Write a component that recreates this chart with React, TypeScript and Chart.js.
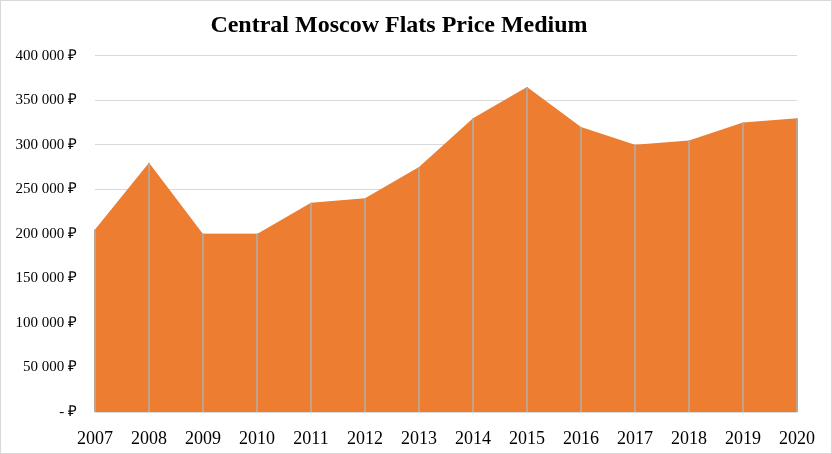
import React, { useEffect, useRef } from "react";
import { Chart, registerables } from "chart.js";

Chart.register(...registerables);

const years = ["2007", "2008", "2009", "2010", "2011", "2012", "2013", "2014", "2015", "2016", "2017", "2018", "2019", "2020"];
const prices = [205000, 280000, 200000, 200000, 235000, 240000, 275000, 330000, 365000, 320000, 300000, 305000, 325000, 330000];
const yTicks = [0, 50000, 100000, 150000, 200000, 250000, 300000, 350000, 400000];

const fmt = (v: number) => (v === 0 ? "- ₽" : v.toString().replace(/\B(?=(\d{3})+(?!\d))/g, " ") + " ₽");

const dropLines = {
  id: "dropLines",
  afterDatasetsDraw(chart: any) {
    const meta = chart.getDatasetMeta(0);
    const { ctx, chartArea } = chart;
    ctx.save();
    ctx.strokeStyle = "#bfa38f";
    ctx.lineWidth = 2;
    meta.data.forEach((pt: any) => {
      const x = Math.round(pt.x);
      ctx.beginPath();
      ctx.moveTo(x, pt.y);
      ctx.lineTo(x, chartArea.bottom);
      ctx.stroke();
    });
    ctx.restore();
  },
};

const serif = "'Liberation Serif', 'Times New Roman', serif";

export default function App() {
  const ref = useRef<HTMLCanvasElement>(null);
  useEffect(() => {
    document.body.style.margin = "0";
    const chart = new Chart(ref.current!, {
      type: "line",
      data: {
        labels: years,
        datasets: [
          {
            data: prices,
            backgroundColor: "#ED7D31",
            borderWidth: 0,
            borderColor: "#ED7D31",
            fill: "origin",
            pointRadius: 0,
            tension: 0,
          },
        ],
      },
      options: {
        responsive: false,
        animation: false,
        layout: { padding: { left: 0, right: 34, top: 2, bottom: 0 } },
        plugins: {
          legend: { display: false },
          tooltip: { enabled: false },
          title: {
            display: true,
            text: "Central Moscow Flats Price Medium",
            color: "#000",
            font: { family: serif, size: 24, weight: "bold" },
            padding: { top: 8, bottom: 16 },
          },
        },
        scales: {
          x: {
            offset: false,
            grid: { display: false },
            border: { display: false },
            afterFit: (scale: any) => {
              scale.height = 41;
            },
            ticks: {
              color: "#000",
              maxRotation: 0,
              autoSkip: false,
              padding: 8,
              font: { family: serif, size: 18 },
            },
          },
          y: {
            min: 0,
            max: 400000,
            afterBuildTicks: (axis: any) => {
              axis.ticks = yTicks.map((v) => ({ value: v }));
            },
            afterFit: (scale: any) => {
              scale.width = 94;
            },
            grid: { color: "#d9d9d9", drawTicks: false },
            border: { display: false },
            ticks: {
              color: "#000",
              padding: 18,
              callback: (v: any) => fmt(Number(v)),
              font: { family: serif, size: 15 },
            },
          },
        },
      },
      plugins: [dropLines],
    });
    return () => chart.destroy();
  }, []);
  return (
    <div style={{ width: 832, height: 454, boxSizing: "border-box", border: "1px solid #d9d9d9", background: "#fff" }}>
      <canvas ref={ref} width={830} height={452} style={{ display: "block" }} />
    </div>
  );
}
